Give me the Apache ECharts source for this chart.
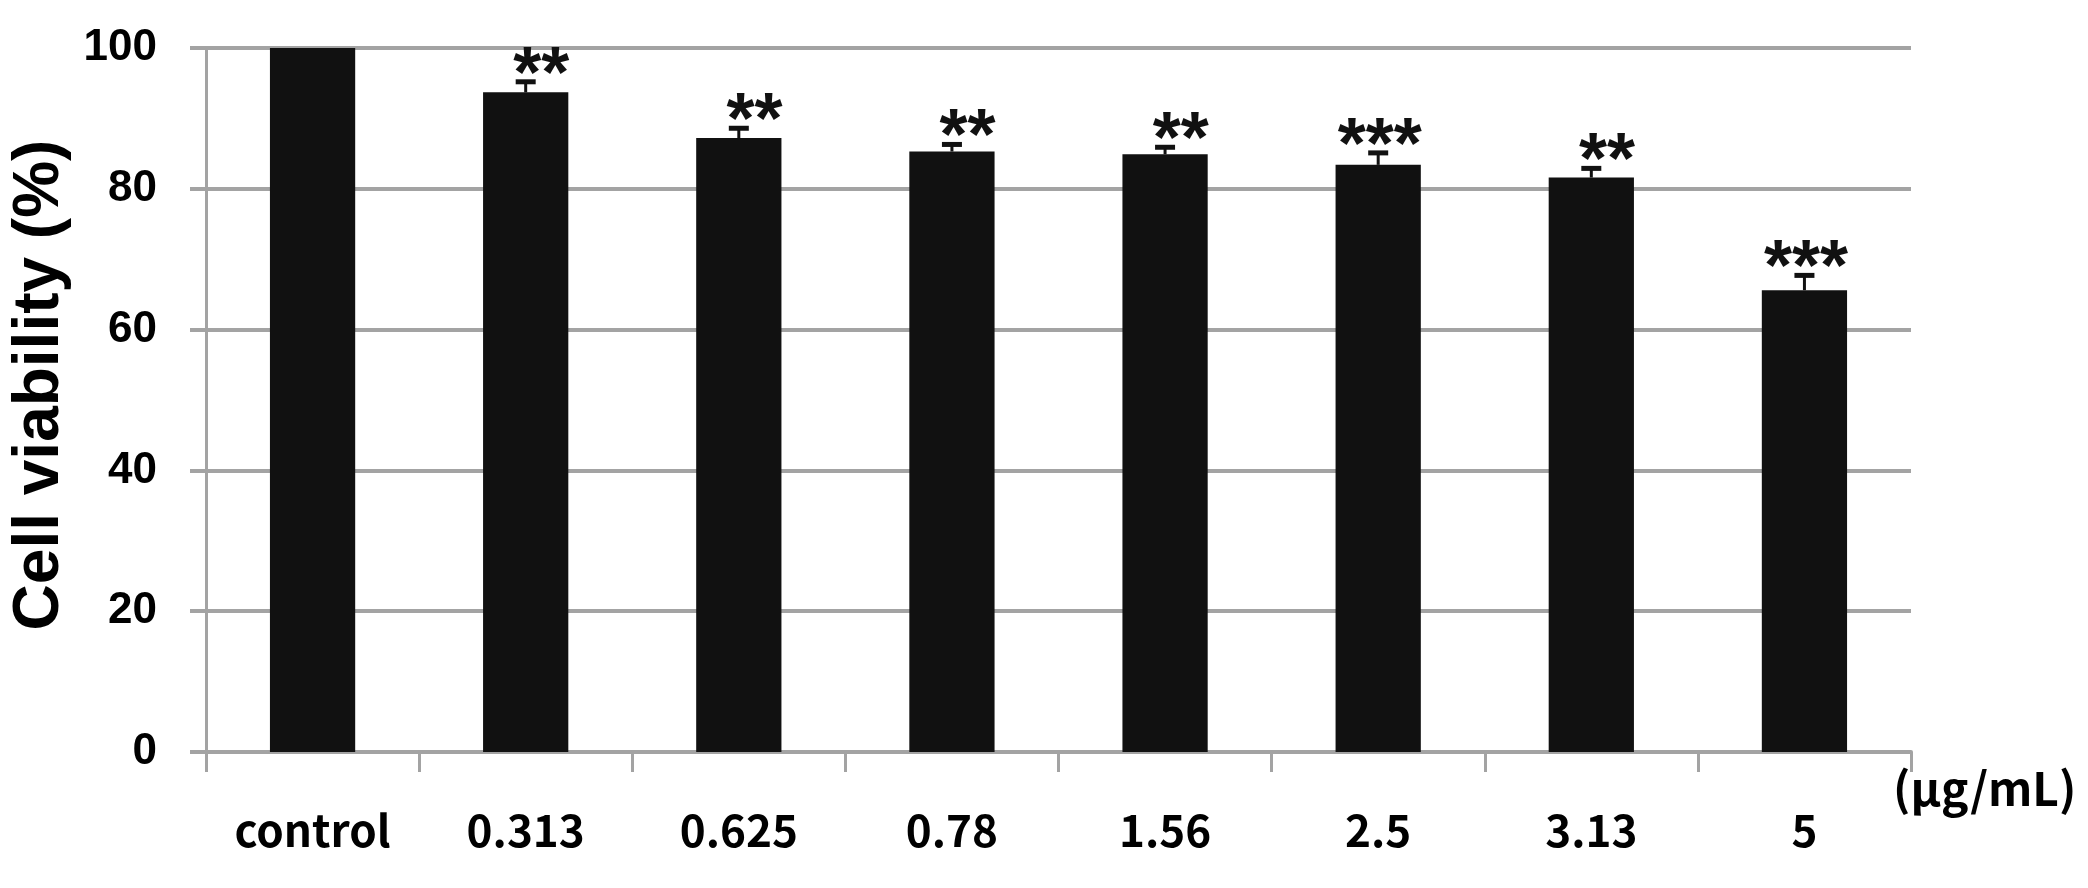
<!DOCTYPE html>
<html><head><meta charset="utf-8">
<script src="https://cdn.jsdelivr.net/npm/echarts@6/dist/echarts.min.js"></script>
<style>html,body{margin:0;padding:0;background:#fff}#c{width:2088px;height:888px}</style>
</head><body><div id="c"></div>
<script>
const categories = ['control', '0.313', '0.625', '0.78', '1.56', '2.5', '3.13', '5'];
const viability = [100, 93.7, 87.2, 85.3, 84.9, 83.4, 81.6, 65.6];
const errors = [0, 1.5, 1.4, 1.0, 1.0, 1.7, 1.3, 2.1];
const significance = ['', '**', '**', '**', '**', '***', '**', '***'];
const yTicks = [0, 20, 40, 60, 80, 100];
const unitLabel = '(μg/mL)';
const yName = 'Cell viability (%)';

const chart = echarts.init(document.getElementById('c'), null, {renderer: 'canvas'});
const gray = '#a3a3a3';
const barFrac = 0.4;
chart.setOption({
  backgroundColor: '#fff',
  animation: false,
  grid: {left: 206, right: 177, top: 48, bottom: 136, containLabel: false},
  xAxis: {
    type: 'category',
    data: categories,
    axisLine: {show: true, lineStyle: {color: gray, width: 4}},
    axisTick: {show: true, alignWithLabel: false, length: 20, lineStyle: {color: gray, width: 3}},
    axisLabel: {margin: 56, color: '#000', fontSize: 44, fontWeight: 'bold', fontFamily: '"Noto Sans CJK KR", "Open Sans", sans-serif'},
    splitLine: {show: false}
  },
  yAxis: {
    type: 'value',
    min: yTicks[0], max: yTicks[yTicks.length - 1], interval: yTicks[1] - yTicks[0],
    name: yName,
    nameLocation: 'middle',
    nameRotate: 90,
    nameGap: 124,
    nameTextStyle: {color: '#000', fontSize: 64, fontWeight: 'bold', fontFamily: '"Liberation Sans", Arial, sans-serif', padding: [0, 0, 0, 30]},
    axisLine: {show: true, lineStyle: {color: gray, width: 3}},
    axisTick: {show: true, inside: false, length: 16, lineStyle: {color: gray, width: 4}},
    axisLabel: {margin: 49, color: '#000', fontSize: 44, fontWeight: 'bold', fontFamily: '"Liberation Sans", Arial, sans-serif', padding: [0, 0, 8, 0]},
    splitLine: {show: true, lineStyle: {color: gray, width: 4}}
  },
  graphic: [{
    type: 'text', left: 1893, top: 766,
    style: {text: unitLabel, fontSize: 46, fontWeight: 'bold', fontFamily: '"Noto Sans CJK KR", "Open Sans", sans-serif', fill: '#000'}
  }],
  series: [{
    type: 'bar',
    data: viability,
    barWidth: (barFrac * 100) + '%',
    itemStyle: {color: '#111111'},
    z: 2
  }, {
    type: 'custom',
    data: categories.map((c, i) => [i, viability[i], errors[i]]),
    z: 3,
    renderItem: function (params, api) {
      const i = params.dataIndex;
      const idx = api.value(0);
      const v = api.value(1);
      const e = api.value(2);
      const x = api.coord([idx, v])[0];
      const yBar = api.coord([idx, v])[1];
      const yTop = api.coord([idx, v + e])[1];
      const half = api.size([1, 0])[0] * barFrac / 2;
      const children = [];
      if (e > 0) {
        children.push({type: 'line', shape: {x1: x, y1: yBar, x2: x, y2: yTop}, style: {stroke: '#111', lineWidth: 3}});
        children.push({type: 'line', shape: {x1: x - 10, y1: yTop, x2: x + 10, y2: yTop}, style: {stroke: '#111', lineWidth: 5}});
      }
      if (significance[i]) {
        children.push({type: 'text', style: {text: significance[i], x: x + half + 1, y: yTop + 31, align: 'right', verticalAlign: 'bottom',
          fontSize: 72, fontWeight: 'bold', fontFamily: '"Liberation Sans", Arial, sans-serif', fill: '#111'}});
      }
      return {type: 'group', children: children};
    }
  }]
});
</script></body></html>
